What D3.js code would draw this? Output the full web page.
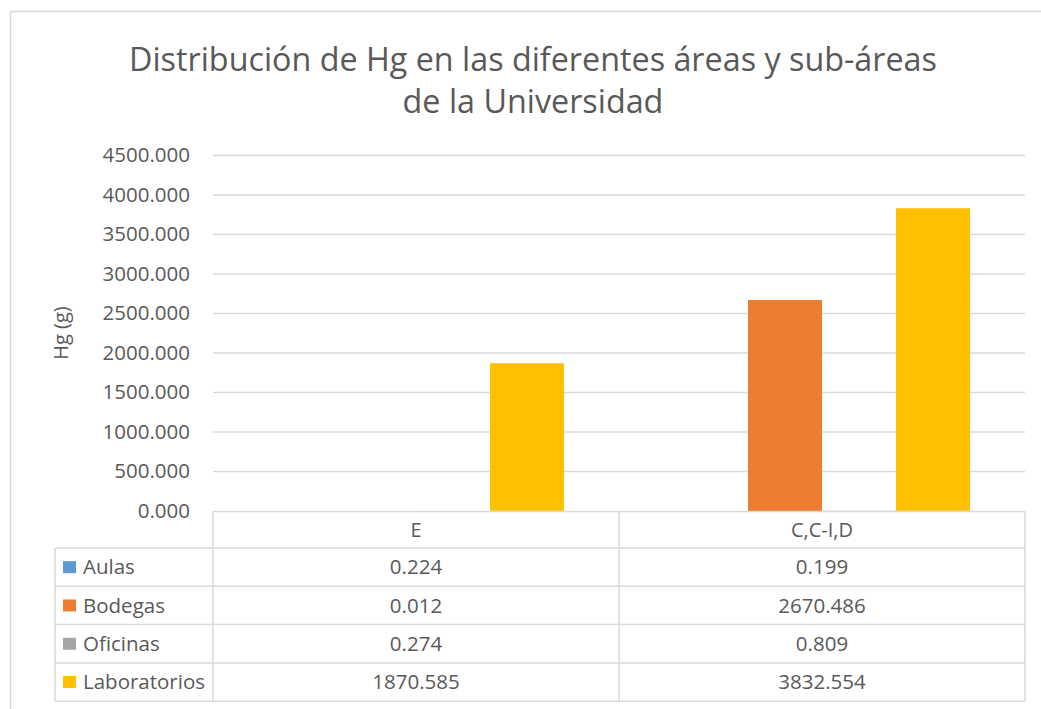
<!DOCTYPE html>
<html>
<head>
<meta charset="utf-8">
<script src="https://cdn.jsdelivr.net/npm/d3@7"></script>
<style>
  body { margin: 0; background: #fff; }
  text { font-family: "Open Sans", sans-serif; fill: #595959; }
</style>
</head>
<body>
<svg id="chart" width="1041" height="709"></svg>
<script>
// data
var categories = ["E", "C,C-I,D"];
var seriesNames = ["Aulas", "Bodegas", "Oficinas", "Laboratorios"];
var seriesColors = ["#5b9bd5", "#ed7d31", "#a5a5a5", "#ffc000"];
var aulas = [0.224, 0.199];
var bodegas = [0.012, 2670.486];
var oficinas = [0.274, 0.809];
var laboratorios = [1870.585, 3832.554];
var yTicks = [0, 500, 1000, 1500, 2000, 2500, 3000, 3500, 4000, 4500];

var series = [aulas, bodegas, oficinas, laboratorios];

var svg = d3.select("#chart");
var W = 1041, H = 709;
var plotLeft = 213, plotRight = 1025, plotTop = 155.5, plotBottom = 511;

// outer chart frame
svg.append("rect")
    .attr("x", 10.5).attr("y", 11.5)
    .attr("width", W + 10).attr("height", H + 10)
    .attr("fill", "none").attr("stroke", "#d9d9d9").attr("stroke-width", 1.5);

// title
var title = svg.append("text")
    .attr("text-anchor", "middle")
    .attr("font-size", "32.3px");
title.append("tspan").attr("x", 533).attr("y", 71).text("Distribución de Hg en las diferentes áreas y sub-áreas");
title.append("tspan").attr("x", 533).attr("y", 113).text("de la Universidad");

var y = d3.scaleLinear().domain([0, 4500]).range([plotBottom, plotTop]);
var x0 = d3.scaleBand().domain(categories).range([plotLeft, plotRight])
    .paddingInner(0.271).paddingOuter(0.1355);
var x1 = d3.scaleBand().domain(seriesNames).range([0, x0.bandwidth()]);

// gridlines
svg.append("g").selectAll("line")
    .data(yTicks.filter(function(d) { return d > 0; }))
    .enter().append("line")
    .attr("x1", plotLeft).attr("x2", plotRight)
    .attr("y1", function(d) { return y(d); })
    .attr("y2", function(d) { return y(d); })
    .attr("stroke", "#d9d9d9").attr("stroke-width", 1.3);

// y axis labels
var yAxis = d3.axisLeft(y).tickValues(yTicks).tickFormat(d3.format(".3f")).tickSize(0).tickPadding(0);
var ga = svg.append("g").attr("transform", "translate(190,0)").call(yAxis);
ga.select(".domain").remove();
ga.selectAll("text")
    .attr("font-size", "20.5px")
    .attr("font-family", "Open Sans, sans-serif")
    .attr("fill", "#595959")
    .attr("dy", "0.3em");

svg.append("text")
    .attr("transform", "translate(68,333) rotate(-90)")
    .attr("text-anchor", "middle")
    .attr("font-size", "20px")
    .text("Hg (g)");

// bars
var groups = svg.append("g").selectAll("g")
    .data(categories)
    .enter().append("g")
    .attr("transform", function(d) { return "translate(" + x0(d) + ",0)"; });

groups.selectAll("rect")
    .data(function(c, ci) {
        return seriesNames.map(function(s, si) {
            return { name: s, value: series[si][ci], color: seriesColors[si] };
        });
    })
    .enter().append("rect")
    .attr("x", function(d) { return x1(d.name); })
    .attr("width", x1.bandwidth())
    .attr("y", function(d) { return y(d.value); })
    .attr("height", function(d) { return y(0) - y(d.value); })
    .attr("fill", function(d) { return d.color; });

// data table
var rowTop = 511.5, headH = 36.5, rowH = 38.3;
var legLeft = 55;
var grid = svg.append("g").attr("stroke", "#d9d9d9").attr("stroke-width", 1.5).attr("fill", "none");
var tableBottom = rowTop + headH + rowH * seriesNames.length;

// horizontal lines
grid.append("line").attr("x1", plotLeft).attr("x2", plotRight).attr("y1", rowTop).attr("y2", rowTop);
d3.range(seriesNames.length + 1).forEach(function(i) {
    var yy = rowTop + headH + rowH * i;
    grid.append("line").attr("x1", legLeft).attr("x2", plotRight).attr("y1", yy).attr("y2", yy);
});
// vertical lines
grid.append("line").attr("x1", legLeft).attr("x2", legLeft).attr("y1", rowTop + headH).attr("y2", tableBottom);
[plotLeft, (plotLeft + plotRight) / 2, plotRight].forEach(function(xx) {
    grid.append("line").attr("x1", xx).attr("x2", xx).attr("y1", rowTop).attr("y2", tableBottom);
});

// header
svg.append("g").selectAll("text")
    .data(categories)
    .enter().append("text")
    .attr("x", function(d) { return x0(d) + x0.bandwidth() / 2; })
    .attr("y", rowTop + headH / 2)
    .attr("dy", "0.35em")
    .attr("text-anchor", "middle")
    .attr("font-size", "20px")
    .text(function(d) { return d; });

// rows
seriesNames.forEach(function(s, si) {
    var cy = rowTop + headH + rowH * si + rowH / 2;
    svg.append("rect")
        .attr("x", 63).attr("y", cy - 6)
        .attr("width", 13).attr("height", 12)
        .attr("fill", seriesColors[si]);
    svg.append("text")
        .attr("x", 83).attr("y", cy).attr("dy", "0.35em")
        .attr("font-size", "20.5px")
        .text(s);
    categories.forEach(function(c, ci) {
        svg.append("text")
            .attr("x", x0(c) + x0.bandwidth() / 2)
            .attr("y", cy).attr("dy", "0.35em")
            .attr("text-anchor", "middle")
            .attr("font-size", "20.5px")
            .text(d3.format(".3f")(series[si][ci]));
    });
});
</script>
</body>
</html>
